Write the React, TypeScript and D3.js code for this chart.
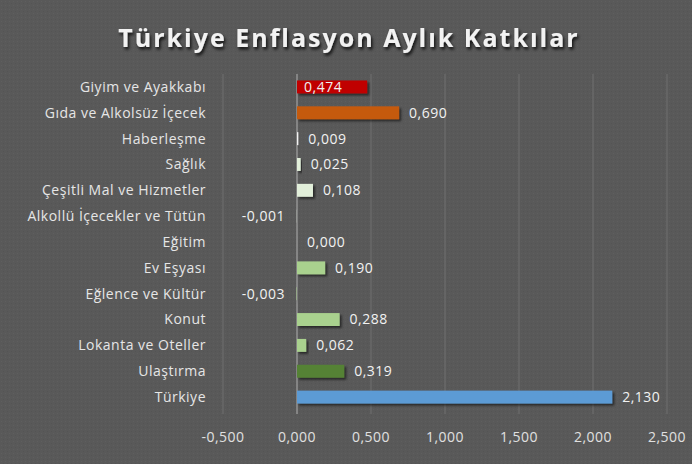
import React from "react";
import * as d3 from "d3";

const categories = [
  "Giyim ve Ayakkabı",
  "Gıda ve Alkolsüz İçecek",
  "Haberleşme",
  "Sağlık",
  "Çeşitli Mal ve Hizmetler",
  "Alkollü İçecekler ve Tütün",
  "Eğitim",
  "Ev Eşyası",
  "Eğlence ve Kültür",
  "Konut",
  "Lokanta ve Oteller",
  "Ulaştırma",
  "Türkiye",
];
const values = [0.474, 0.69, 0.009, 0.025, 0.108, -0.001, 0.0, 0.19, -0.003, 0.288, 0.062, 0.319, 2.13];
const barColors = [
  "#c00000", "#c55a11", "#f2f2f2", "#e2efda", "#e2efda", "#e2efda", "#e2efda",
  "#a9d18e", "#a9d18e", "#a9d18e", "#a9d18e", "#548235", "#5b9bd5",
];
const xTicks = [-0.5, 0, 0.5, 1, 1.5, 2, 2.5];
const insideLabels = ["Giyim ve Ayakkabı"];
const title = "Türkiye Enflasyon Aylık Katkılar";

const W = 692, H = 464;
const left = 223, right = 667, top = 74, bottom = 410;

const fmt = (v: number) => d3.format(".3f")(v).replace("−", "-").replace(".", ",");

export default function App() {
  const x = d3.scaleLinear().domain([-0.5, 2.5]).range([left, right]);
  const y = d3.scaleBand().domain(categories).range([top, bottom]).paddingInner(0.5).paddingOuter(0.25);
  const font = "'Open Sans', sans-serif";
  const fs = 14;
  const ls = 0.5;
  return (
    <div style={{ position: "absolute", left: 0, top: 0 }}>
      <svg width={W} height={H} style={{ display: "block" }}>
        <defs>
          <filter id="sh" x="-10%" y="-30%" width="130%" height="180%">
            <feDropShadow dx="2" dy="2" stdDeviation="1.2" floodColor="#000" floodOpacity="0.55" />
          </filter>
          <filter id="tsh" x="-10%" y="-30%" width="130%" height="180%">
            <feDropShadow dx="1.5" dy="2.5" stdDeviation="1.5" floodColor="#000" floodOpacity="0.8" />
          </filter>
          <pattern id="tex" width="4" height="4" patternUnits="userSpaceOnUse">
            <rect width="4" height="4" fill="#595959" />
            <rect width="1" height="1" x="1" y="1" fill="#5f5f5f" />
            <rect width="1" height="1" x="3" y="3" fill="#545454" />
          </pattern>
        </defs>
        <rect width={W} height={H} fill="url(#tex)" />
        <text x={W / 2 + 3} y={47} textAnchor="middle" fill="#f2f2f2" fontFamily={font} fontWeight="bold"
          fontSize={25} letterSpacing={2} filter="url(#tsh)">{title}</text>
        {xTicks.map((t) => (
          <line key={"g" + t} x1={x(t)} x2={x(t)} y1={top} y2={bottom} stroke={t === 0 ? "#b0b0b0" : "#707070"} strokeWidth={1} />
        ))}
        {xTicks.map((t) => (
          <line key={"tk" + t} x1={x(t)} x2={x(t)} y1={bottom} y2={bottom + 4} stroke={t === 0 ? "#b0b0b0" : "#707070"} />
        ))}
        {categories.map((c, i) => {
          const v = values[i];
          const x0 = x(Math.min(0, v));
          const w = Math.abs(x(v) - x(0));
          const yy = y(c)!;
          const cy = yy + y.bandwidth() / 2;
          const inside = insideLabels.includes(c);
          const lx = inside ? x(0) + 7 : v < 0 ? x(0) - 12 : x(v) + 10;
          return (
            <g key={c}>
              <rect x={x0} y={yy} width={Math.max(w, 0.01)} height={y.bandwidth()} fill={barColors[i]} filter="url(#sh)" />
              <text x={206} y={cy} dy="0.35em" textAnchor="end" fill="#e6e6e6" fontFamily={font} fontSize={fs} letterSpacing={ls}>{c}</text>
              <text x={lx} y={cy} dy="0.35em" textAnchor={v < 0 ? "end" : "start"} fill="#f2f2f2" fontFamily={font} fontSize={fs} letterSpacing={ls}>{fmt(v)}</text>
            </g>
          );
        })}
        {xTicks.map((t) => (
          <text key={"l" + t} x={x(t)} y={437} dy="0.35em" textAnchor="middle" fill="#e0e0e0" fontFamily={font} fontSize={fs} letterSpacing={ls}>{fmt(t)}</text>
        ))}
      </svg>
    </div>
  );
}
